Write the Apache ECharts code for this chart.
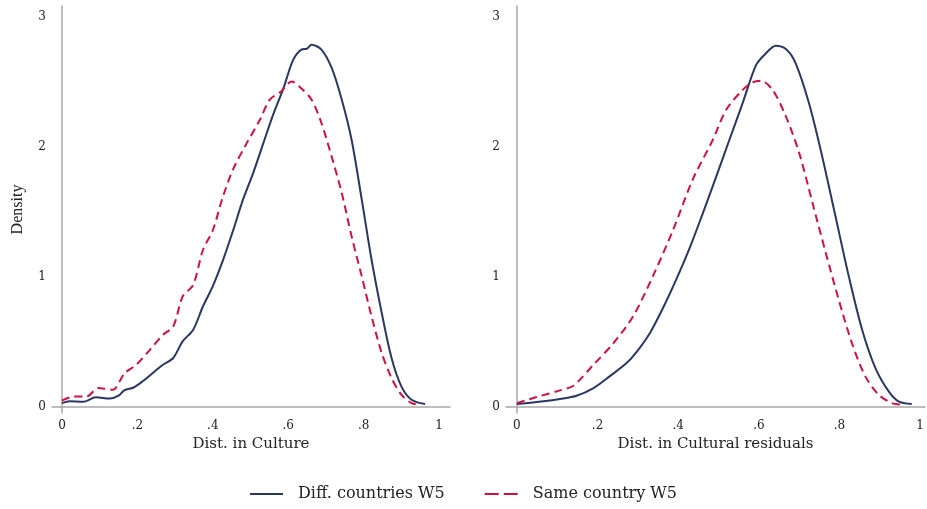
<!DOCTYPE html>
<html>
<head>
<meta charset="utf-8">
<script src="https://cdn.jsdelivr.net/npm/echarts@6/dist/echarts.min.js"></script>
<style>html,body{margin:0;padding:0;background:#fff}#c{width:927px;height:509px}</style>
</head>
<body>
<div id="c"></div>
<script>
const seriesNames = ["Diff. countries W5", "Same country W5"];
const xTicks = [0, 0.2, 0.4, 0.6, 0.8, 1];
const yTicks = [0, 1, 2, 3];
const xTitles = ["Dist. in Culture", "Dist. in Cultural residuals"];

const leftDiffX = [0,0.02,0.056,0.09,0.127,0.15,0.166,0.19,0.215,0.24,0.268,0.295,0.32,0.348,0.374,0.4,0.427,0.454,0.48,0.507,0.534,0.56,0.587,0.613,0.635,0.649,0.662,0.688,0.715,0.742,0.768,0.795,0.821,0.848,0.874,0.9,0.927,0.963];
const leftDiffY = [0.03,0.045,0.04,0.075,0.065,0.087,0.13,0.15,0.2,0.26,0.325,0.377,0.505,0.595,0.775,0.93,1.13,1.36,1.595,1.8,2.03,2.25,2.45,2.67,2.75,2.756,2.787,2.75,2.61,2.364,2.056,1.595,1.133,0.723,0.377,0.159,0.056,0.023];
const leftSameX = [0,0.03,0.065,0.096,0.113,0.135,0.166,0.197,0.233,0.268,0.295,0.32,0.348,0.374,0.4,0.427,0.454,0.49,0.525,0.551,0.582,0.609,0.635,0.662,0.688,0.715,0.742,0.768,0.795,0.821,0.848,0.874,0.9,0.927,0.95];
const leftSameY = [0.05,0.08,0.08,0.146,0.14,0.133,0.26,0.325,0.44,0.556,0.62,0.85,0.94,1.21,1.36,1.62,1.83,2.03,2.21,2.364,2.43,2.505,2.45,2.364,2.185,1.928,1.646,1.313,1.005,0.697,0.415,0.223,0.095,0.03,0.018];
const rightDiffX = [0,0.066,0.107,0.148,0.19,0.23,0.272,0.296,0.33,0.362,0.395,0.428,0.461,0.494,0.527,0.56,0.593,0.617,0.642,0.667,0.691,0.724,0.757,0.79,0.823,0.856,0.889,0.922,0.946,0.979];
const rightDiffY = [0.023,0.044,0.062,0.087,0.146,0.236,0.338,0.42,0.57,0.76,0.98,1.22,1.49,1.77,2.056,2.34,2.63,2.72,2.78,2.754,2.646,2.34,1.928,1.467,1.005,0.595,0.3,0.12,0.044,0.023];
const rightSameX = [0,0.049,0.107,0.14,0.19,0.239,0.288,0.337,0.387,0.436,0.486,0.519,0.56,0.584,0.605,0.634,0.667,0.7,0.733,0.766,0.798,0.831,0.864,0.897,0.93,0.955];
const rightSameY = [0.03,0.077,0.128,0.164,0.326,0.49,0.697,1.005,1.36,1.75,2.056,2.287,2.44,2.497,2.51,2.44,2.236,1.954,1.57,1.185,0.826,0.49,0.236,0.095,0.03,0.018];

const NAVY = '#2a3761', RED = '#cf1040';
const pair = (xs, ys) => xs.map((x, i) => [x, ys[i]]);
const serif = 'DejaVu Serif';
const fmtX = v => (v === 0 ? '0' : v === 1 ? '1' : String(+v.toFixed(1)).replace(/^0/, ''));

function xAxis(idx, min, max) {
  return {
    type: 'value', gridIndex: idx, min: min, max: max,
    name: xTitles[idx], nameLocation: 'middle', nameGap: 18,
    nameTextStyle: { fontFamily: serif, fontSize: 15, color: '#222' },
    axisLine: { show: true, lineStyle: { color: '#a8a8a8', width: 1.5 } },
    axisTick: { show: false },
    splitLine: { show: false },
    axisLabel: { customValues: xTicks, formatter: fmtX, fontFamily: serif, fontSize: 12, color: '#222', margin: 7 }
  };
}
function yAxis(idx) {
  return {
    type: 'value', gridIndex: idx, min: -0.046, max: 3.085,
    name: idx === 0 ? 'Density' : '', nameLocation: 'middle', nameGap: 26,
    nameTextStyle: { fontFamily: 'Liberation Serif', fontSize: 16, color: '#222' },
    axisLine: { show: true, lineStyle: { color: '#a8a8a8', width: 1.5 } },
    axisTick: { show: false },
    splitLine: { show: false },
    axisLabel: { customValues: yTicks, fontFamily: serif, fontSize: 12, color: '#222', margin: 6 }
  };
}
function line(name, idx, data, color, dashed) {
  return {
    name: name, type: 'line', xAxisIndex: idx, yAxisIndex: idx, data: data,
    smooth: 0.3, showSymbol: false, symbol: 'none',
    lineStyle: { color: color, width: 2, type: dashed ? [8, 5] : 'solid' },
    itemStyle: { color: color }
  };
}

const chart = echarts.init(document.getElementById('c'));
chart.setOption({
  animation: false,
  backgroundColor: '#fff',
  grid: [
    { left: 52, right: 477, top: 6, bottom: 96 },
    { left: 506, right: 0, top: 6, bottom: 96 }
  ],
  xAxis: [xAxis(0, -0.0265, 1.029), xAxis(1, -0.027, 1.012)],
  yAxis: [yAxis(0), yAxis(1)],
  legend: {
    left: 'center', top: 481, itemWidth: 33, itemHeight: 2, itemGap: 40,
    data: [
      { name: seriesNames[0], icon: 'rect', itemStyle: { color: NAVY } },
      { name: seriesNames[1], icon: 'path://M0,0h14v2h-14z M19,0h14v2h-14z', itemStyle: { color: RED } }
    ],
    textStyle: { fontFamily: serif, fontSize: 16, color: '#222', padding: [0, 0, 0, 10] }
  },
  series: [
    line(seriesNames[0], 0, pair(leftDiffX, leftDiffY), NAVY, false),
    line(seriesNames[1], 0, pair(leftSameX, leftSameY), RED, true),
    line(seriesNames[0], 1, pair(rightDiffX, rightDiffY), NAVY, false),
    line(seriesNames[1], 1, pair(rightSameX, rightSameY), RED, true)
  ]
});
</script>
</body>
</html>
